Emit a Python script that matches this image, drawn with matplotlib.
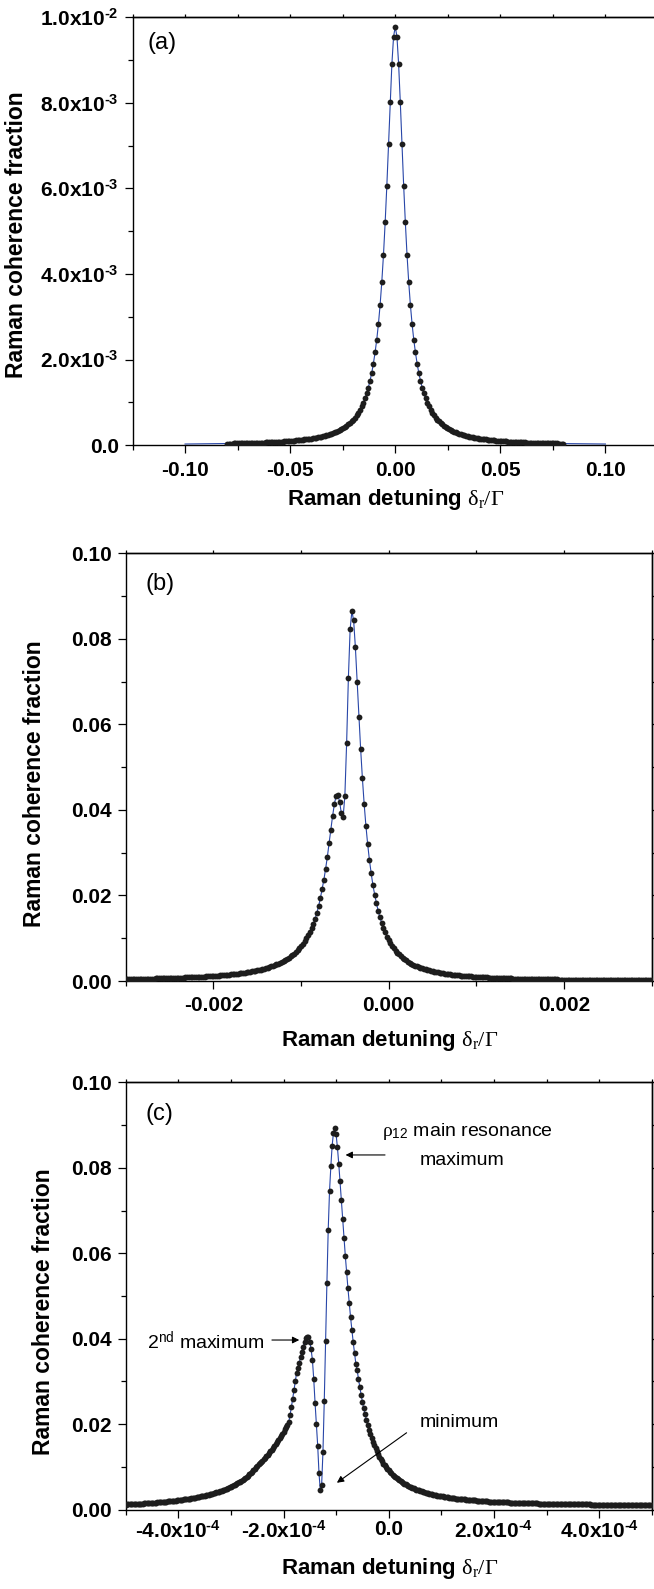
import numpy as np
import matplotlib
matplotlib.use("Agg")
import matplotlib.pyplot as plt
from matplotlib.ticker import MultipleLocator

# ---- data --------------------------------------------------------------------
# (a) detuning grid -0.08..0.08 (201 pts); curve is symmetric, right half in 1e-5
coh_a_right = [978, 955, 891, 802, 703, 607, 521, 445, 382, 328,
               284, 247, 217, 191, 169, 151, 135, 121.4, 109.8, 99.7,
               90.8, 83.1, 76.3, 70.3, 64.9, 60.2, 55.9, 52.0, 48.6, 45.4,
               42.6, 40.0, 37.6, 35.5, 33.5, 31.6, 30.0, 28.4, 27.0, 25.6,
               24.4, 23.3, 22.2, 21.2, 20.3, 19.4, 18.6, 17.8, 17.1, 16.4,
               15.8, 15.2, 14.6, 14.1, 13.6, 13.1, 12.6, 12.2, 11.8, 11.4,
               11.0, 10.7, 10.3, 10.0, 9.7, 9.4, 9.1, 8.8, 8.6, 8.3,
               8.1, 7.9, 7.7, 7.5, 7.3, 7.1, 6.9, 6.7, 6.5, 6.4,
               6.2, 6.1, 5.9, 5.8, 5.6, 5.5, 5.4, 5.3, 5.2, 5.0,
               4.9, 4.8, 4.7, 4.6, 4.5, 4.4, 4.3, 4.2, 4.2, 4.1,
               4.0]
coh_a = coh_a_right[:0:-1] + coh_a_right
det_a_range = (-0.08, 0.08)
det_a_line_ends = (-0.10, 0.10)     # blue line runs on past the symbols
coh_a_line_ends = (3.0, 3.0)        # 1e-5

# (b) detuning grid -0.003..0.003 (301 pts), values in 1e-4
coh_b = [4.5, 4.5, 4.6, 4.7, 4.7, 4.8, 4.9, 5.0, 5.1, 5.1,
         5.2, 5.3, 5.4, 5.5, 5.6, 5.7, 5.8, 5.9, 6.0, 6.1,
         6.2, 6.3, 6.5, 6.6, 6.7, 6.8, 7.0, 7.1, 7.2, 7.4,
         7.5, 7.7, 7.8, 8.0, 8.2, 8.3, 8.5, 8.7, 8.9, 9.1,
         9.3, 9.5, 9.7, 10.0, 10.2, 10.4, 10.7, 10.9, 11.2, 11.5,
         11.8, 12.1, 12.4, 12.7, 13.0, 13.4, 13.8, 14.1, 14.5, 14.9,
         15.4, 15.8, 16.3, 16.8, 17.3, 17.8, 18.4, 19.0, 19.6, 20.2,
         20.9, 21.6, 22.4, 23.2, 24.0, 24.9, 25.8, 26.8, 27.8, 28.9,
         30.1, 31.3, 32.6, 34.0, 35.4, 37.0, 38.7, 40.5, 42.4, 44.5,
         46.7, 49.0, 51.6, 54.3, 57.3, 60.5, 64.0, 67.8, 72.0, 76.5,
         81.4, 86.9, 92.8, 99.4, 106.7, 114.8, 123.8, 133.8,
         145, 159, 175, 193, 214, 236, 262, 290, 322, 353,
         386, 413, 433, 435, 419, 392, 383, 433, 556, 708,
         822, 865, 843, 780, 700, 618, 542, 474, 414, 363,
         320, 283, 252, 224, 202, 182, 164, 149, 136,
         124, 114, 104, 96, 89, 82, 76, 71, 66, 62,
         58, 54, 51, 48, 45, 43, 40, 38, 36, 34,
         33, 31, 30, 28, 27, 26, 25, 24, 23, 22,
         21, 20, 19, 18.5, 17.9, 17.2, 16.6, 16.0, 15.4, 14.9,
         14.4, 13.9, 13.5, 13.1, 12.7, 12.3, 11.9, 11.5, 11.2, 10.9,
         10.6, 10.3, 10.0, 9.7, 9.4, 9.2, 8.9, 8.7, 8.5, 8.3,
         8.1, 7.9, 7.7, 7.5, 7.3, 7.1, 7.0, 6.8, 6.6, 6.5,
         6.3, 6.2, 6.1, 5.9, 5.8, 5.7, 5.6, 5.5, 5.3, 5.2,
         5.1, 5.0, 4.9, 4.8, 4.7, 4.6, 4.6, 4.5, 4.4, 4.3,
         4.2, 4.2, 4.1, 4.0, 3.9, 3.9, 3.8, 3.7, 3.7, 3.6,
         3.5, 3.5, 3.4, 3.4, 3.3, 3.3, 3.2, 3.2, 3.1, 3.1,
         3.0, 3.0, 2.9, 2.9, 2.8, 2.8, 2.8, 2.7, 2.7, 2.6,
         2.6, 2.6, 2.5, 2.5, 2.5, 2.4, 2.4, 2.4, 2.3, 2.3,
         2.3, 2.2, 2.2, 2.2, 2.1, 2.1, 2.1, 2.1, 2.0, 2.0,
         2.0, 2.0, 1.9, 1.9, 1.9, 1.9, 1.8, 1.8, 1.8, 1.8,
         1.8, 1.7, 1.7, 1.7]
det_b_range = (-0.003, 0.003)

# (c) detuning grid -5e-4..5e-4 (401 pts), values in 1e-4
coh_c = [12.1, 12.2, 12.4, 12.5, 12.7, 12.9, 13.1, 13.2, 13.4, 13.6,
         13.8, 14.0, 14.2, 14.4, 14.6, 14.8, 15.1, 15.3, 15.5, 15.7,
         16.0, 16.2, 16.5, 16.7, 17.0, 17.3, 17.5, 17.8, 18.1, 18.4,
         18.7, 19.0, 19.3, 19.7, 20.0, 20.3, 20.7, 21.1, 21.4, 21.8,
         22.2, 22.6, 23.0, 23.4, 23.9, 24.3, 24.8, 25.3, 25.7, 26.2,
         26.8, 27.3, 27.8, 28.4, 29.0, 29.6, 30.2, 30.9, 31.5, 32.2,
         32.9, 33.6, 34.4, 35.2, 36.0, 36.8, 37.6, 38.5, 39.5, 40.4,
         41.4, 42.4, 43.5, 44.6, 45.8, 47.0, 48.2, 49.5, 50.8, 52.2,
         53.7, 55.2, 56.8, 58.5, 60.2, 62.0, 63.9, 65.9, 68.0, 70.1,
         72.4, 74.8, 77.3, 80.0, 82.8, 85.7, 88.8, 92.0, 95.5, 99.1,
         103.2, 106.0, 109.0, 112.0, 115.1, 118.3, 121.7, 125.2, 128.7, 132.5,
         136.3, 140.3, 144.4, 148.6, 153.0, 157.5, 162.2, 167.0, 171.9, 177.0,
         182.3, 187.7, 193.2, 198.9,
         205, 222, 240, 260, 280, 300, 321, 331, 344, 357,
         370, 381, 393, 401, 405, 403, 392, 375, 350, 305,
         250, 200, 150, 85, 45, 58, 135, 255, 395, 530,
         655, 745, 803, 852, 882, 893, 878, 848, 810, 768,
         724, 680, 636, 594, 555, 518, 483, 450, 420, 392,
         366, 342,
         327, 306, 287, 269, 252, 237, 223, 210, 198, 187,
         177, 168, 159, 151, 144, 137, 130, 124, 119, 113,
         108, 104, 100, 96, 92, 88, 85, 82, 79, 76,
         74, 71, 69, 66, 64, 62, 61, 59, 57, 55,
         54, 52, 51, 50, 48, 47, 46, 45, 44, 43,
         42, 41, 40, 39, 38, 37, 37, 36, 35, 34,
         34, 33, 33, 32, 31, 31, 30, 30, 29, 29,
         28, 28, 27, 27, 27, 26, 26, 25, 25, 25,
         24, 24, 24, 23, 23, 23, 23, 22, 22, 22,
         22, 21, 21, 21, 21, 20, 20, 20, 20, 20,
         19, 19, 19, 19, 18.7, 18.5, 18.3, 18.2, 18.0, 17.8,
         17.7, 17.5, 17.4, 17.3, 17.1, 17.0, 16.8, 16.7, 16.6, 16.5,
         16.3, 16.2, 16.1, 16.0, 15.9, 15.8, 15.7, 15.6, 15.5, 15.4,
         15.3, 15.2, 15.1, 15.0, 14.9, 14.8, 14.7, 14.6, 14.5, 14.5,
         14.4, 14.3, 14.2, 14.1, 14.1, 14.0, 13.9, 13.8, 13.8, 13.7,
         13.6, 13.6, 13.5, 13.4, 13.4, 13.3, 13.3, 13.2, 13.1, 13.1,
         13.0, 13.0, 12.9, 12.9, 12.8, 12.8, 12.7, 12.6, 12.6, 12.6,
         12.5, 12.5, 12.4, 12.4, 12.3, 12.3, 12.2, 12.2, 12.1, 12.1,
         12.1, 12.0, 12.0, 11.9, 11.9, 11.9, 11.8, 11.8, 11.7, 11.7,
         11.7, 11.6, 11.6, 11.6, 11.5, 11.5, 11.5, 11.4, 11.4, 11.4,
         11.3, 11.3, 11.3, 11.3, 11.2, 11.2, 11.2, 11.1, 11.1, 11.1,
         11.1, 11.0, 11.0, 11.0, 11.0, 10.9, 10.9, 10.9, 10.9, 10.8,
         10.8, 10.8, 10.8, 10.7, 10.7]
det_c_range = (-5e-4, 5e-4)

# tick labels (superscript uses a plain hyphen, as in the original)
xt_a = [-0.10, -0.05, 0.0, 0.05, 0.10]
xl_a = ["-0.10", "-0.05", "0.00", "0.05", "0.10"]
yt_a = [0, 2e-3, 4e-3, 6e-3, 8e-3, 1e-2]
yl_a = ["0.0", "2.0x10$^{\\mathbf{\u2010}\\mathbf{3}}$", "4.0x10$^{\\mathbf{\u2010}\\mathbf{3}}$",
        "6.0x10$^{\\mathbf{\u2010}\\mathbf{3}}$", "8.0x10$^{\\mathbf{\u2010}\\mathbf{3}}$",
        "1.0x10$^{\\mathbf{\u2010}\\mathbf{2}}$"]
xt_b = [-0.002, 0.0, 0.002]
xl_b = ["-0.002", "0.000", "0.002"]
yt_bc = [0, 0.02, 0.04, 0.06, 0.08, 0.10]
yl_bc = ["0.00", "0.02", "0.04", "0.06", "0.08", "0.10"]
xt_c = [-4e-4, -2e-4, 0.0, 2e-4, 4e-4]
xl_c = ["-4.0x10$^{\\mathbf{\u2010}\\mathbf{4}}$", "-2.0x10$^{\\mathbf{\u2010}\\mathbf{4}}$", "0.0",
        "2.0x10$^{\\mathbf{\u2010}\\mathbf{4}}$", "4.0x10$^{\\mathbf{\u2010}\\mathbf{4}}$"]

# ---- styling ------------------------------------------------------------------
plt.rcParams.update({
    "font.family": "Liberation Sans",
    "font.weight": "bold",
    "mathtext.fontset": "custom",
    "mathtext.rm": "Liberation Serif:weight=normal",
    "mathtext.sf": "Liberation Sans:weight=normal",
    "mathtext.bf": "Liberation Sans:weight=bold",
    "mathtext.it": "Liberation Serif:weight=normal:slant=italic",
    "axes.linewidth": 1.0,
})
BLUE = "#2846a8"
DOT = "#1d1d1d"
W, H = 654, 1589
XLABEL = r"Raman detuning $\mathrm{\delta_r/\Gamma}$"
YLABEL = "Raman coherence fraction"
TICK_FS = 15

fig = plt.figure(figsize=(W / 100, H / 100), dpi=100)


def add_axes_px(left, top, right, bottom):
    return fig.add_axes([left / W, 1 - bottom / H, (right - left) / W, (bottom - top) / H])


def style(ax, xlim, ylim, xt, xl, yt, yl, xminor, yminor, xpad):
    ax.set_xlim(*xlim)
    ax.set_ylim(*ylim)
    ax.set_xticks(xt, xl)
    ax.set_yticks(yt, yl)
    ax.xaxis.set_minor_locator(MultipleLocator(xminor))
    ax.yaxis.set_minor_locator(MultipleLocator(yminor))
    ax.tick_params(which="major", direction="out", length=5.5, width=0.9, labelsize=TICK_FS)
    ax.tick_params(which="minor", direction="out", length=3.5, width=0.9)
    ax.tick_params(axis="x", which="major", pad=xpad)
    ax.tick_params(axis="y", which="major", pad=4.3)
    # short outward ticks on the top and right frame
    top = ax.secondary_xaxis("top")
    top.set_xticks(xt)
    top.xaxis.set_minor_locator(MultipleLocator(xminor))
    top.tick_params(which="both", direction="out", length=2, width=0.9, labeltop=False)
    right = ax.secondary_yaxis("right")
    right.set_yticks(yt)
    right.yaxis.set_minor_locator(MultipleLocator(yminor))
    right.tick_params(which="both", direction="out", length=2, width=0.9, labelright=False)


def curve(ax, x, y, xline=None, yline=None):
    ax.plot(x if xline is None else xline, y if yline is None else yline,
            color=BLUE, lw=0.8, zorder=2)
    ax.plot(x, y, "o", ms=4.2, mfc=DOT, mec=DOT, mew=0, zorder=3)


# (a)
ax_a = add_axes_px(132.5, 17.3, 658, 445.3)
xa = np.linspace(*det_a_range, len(coh_a))
ya = np.array(coh_a) * 1e-5
xa_line = np.concatenate([[det_a_line_ends[0]], xa, [det_a_line_ends[1]]])
ya_line = np.concatenate([[coh_a_line_ends[0] * 1e-5], ya, [coh_a_line_ends[1] * 1e-5]])
curve(ax_a, xa, ya, xa_line, ya_line)
style(ax_a, (-0.125, 0.125), (0, 0.01), xt_a, xl_a, yt_a, yl_a, 0.025, 1e-3, 5.8)
ax_a.text(0.028, 0.939, "(a)", transform=ax_a.transAxes, fontsize=17,
          fontweight="normal", ha="left", va="center")

# (b)
ax_b = add_axes_px(125.7, 553.3, 651.7, 981)
xb = np.linspace(*det_b_range, len(coh_b))
yb = np.array(coh_b) * 1e-4
curve(ax_b, xb, yb)
style(ax_b, (-0.003, 0.003), (0, 0.1), xt_b, xl_b, yt_bc, yl_bc, 0.001, 0.01, 5.1)
ax_b.text(0.037, 0.928, "(b)", transform=ax_b.transAxes, fontsize=17,
          fontweight="normal", ha="left", va="center")

# (c)
ax_c = add_axes_px(125.7, 1082.3, 651.7, 1509.7)
xc = np.linspace(*det_c_range, len(coh_c))
yc = np.array(coh_c) * 1e-4
curve(ax_c, xc, yc)
style(ax_c, (-5e-4, 5e-4), (0, 0.1), xt_c, xl_c, yt_bc, yl_bc, 1e-4, 0.01, 2.0)
ax_c.text(0.037, 0.925, "(c)", transform=ax_c.transAxes, fontsize=17,
          fontweight="normal", ha="left", va="center")

arrow = dict(arrowstyle="-|>", lw=0.8, color="black", shrinkA=0, shrinkB=0,
             mutation_scale=10)
ax_c.text(-0.12e-4, 0.0884, r"$\mathrm{\rho}_{\mathsf{12}}$ main resonance", fontsize=14,
          fontweight="normal", ha="left", va="center")
ax_c.text(0.58e-4, 0.0816, "maximum", fontsize=14, fontweight="normal",
          ha="left", va="center")
ax_c.annotate("", xy=(-0.82e-4, 0.0830), xytext=(-0.07e-4, 0.0830), arrowprops=arrow)
ax_c.text(-4.6e-4, 0.0393, r"2$^{\mathsf{nd}}$ maximum", fontsize=14,
          fontweight="normal", ha="left", va="center")
ax_c.annotate("", xy=(-1.70e-4, 0.0397), xytext=(-2.22e-4, 0.0397), arrowprops=arrow)
ax_c.text(0.58e-4, 0.0203, "minimum", fontsize=14, fontweight="normal",
          ha="left", va="center")
ax_c.annotate("", xy=(-0.985e-4, 0.0063), xytext=(0.34e-4, 0.0180), arrowprops=arrow)

# axis titles placed at their measured pixel positions
for cx, cy in [(395.5, 505), (390, 1046), (390, 1574)]:
    fig.text(cx / W, 1 - cy / H, XLABEL, fontsize=16, ha="center", va="baseline")
for cx, cy in [(16.7, 235), (34.3, 784), (43.3, 1312)]:
    fig.text(cx / W, 1 - cy / H, YLABEL, fontsize=16.5, rotation=90,
             ha="center", va="center")

fig.savefig("out.png", dpi=100)
